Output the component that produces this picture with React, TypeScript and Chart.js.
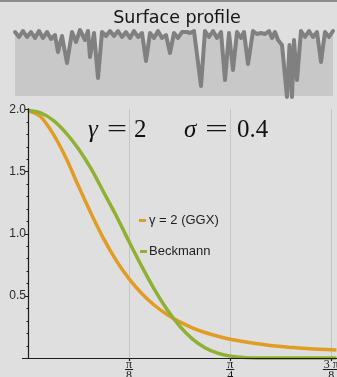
import { useEffect, useRef } from "react";
import { Chart, registerables } from "chart.js";

Chart.register(...registerables);

// ---- Surface profile: sample position along the surface and its height ----
const PROFILE_POS = [
  0, 4, 8, 12, 16, 20, 24, 28, 32, 36, 40, 43, 47, 52, 57, 61, 65, 70, 73, 75,
  79, 83, 87, 91, 95, 99, 103, 107, 111, 115, 119, 123, 127, 131, 135, 139, 143,
  147, 151, 155, 159, 163, 167, 172, 175, 179, 186, 190, 194, 198, 202, 206, 210,
  214, 218, 222, 226, 229, 233, 238, 242, 246, 250, 254, 257, 260, 263, 267, 272,
  274.5, 277, 279, 282, 286, 290, 294, 298, 302, 306, 310, 314, 318,
];
const PROFILE_HEIGHT = [
  -1, -6, 0, -6, -1, -7, 0, -7, -1, -8, -4, -21, -5, -32, -1, -11, 1, -9, 0, -26,
  -2, -47, -1, -5, 0, -5, 0, -6, -1, -7, 0, -6, -2, -30, -2, -7, 0,
  -7, -4, -22, -2, -7, -1, -1, -2, 0, -55, 0, -6, 0, -7, -1, -49,
  -2, -39, -1, -7, -1, -33, 0, -3, -2, -3, 0, -7, -1, -9, -14, -66,
  -14, -66, -9, -49, 0, -6, 0, -6, -1, -31, -1, -6, 0,
];
const PROFILE_MIN = -65;
const PROFILE_LEN = 318;

// ---- Microfacet distributions D(θ), roughness σ = 0.4 ----
// angle samples in steps of π/64
const ANGLE_STEPS = [
  0, 1, 2, 3, 4, 5, 6, 7, 8, 9, 10, 11, 12, 13, 14, 15, 16, 17, 18, 19, 20, 21,
  22, 23, 24, 24.4,
];
const GGX = [
  1.99, 1.94, 1.8, 1.61, 1.38, 1.16, 0.956, 0.781, 0.636, 0.518, 0.424, 0.349,
  0.29, 0.243, 0.205, 0.175, 0.151, 0.132, 0.116, 0.103, 0.093, 0.084, 0.077,
  0.071, 0.066, 0.064,
];
const BECKMANN = [
  1.99, 1.97, 1.91, 1.81, 1.68, 1.52, 1.33, 1.14, 0.934, 0.736, 0.551, 0.389,
  0.256, 0.154, 0.083, 0.039, 0.015, 0.005, 0.001, 0, 0, 0, 0, 0, 0, 0,
];

const X_TICKS = [Math.PI / 8, Math.PI / 4, (3 * Math.PI) / 8];
const X_TICK_NUM = ["π", "π", "3 π"];
const X_TICK_DEN = ["8", "4", "8"];
const X_MAX = 1.2;
const Y_TICKS = [0, 0.5, 1, 1.5, 2];

const BG = "#dfdfdf";
const ORANGE = "#e19c24";
const GREEN = "#8fb032";
const AXIS = "#1c1c1c";

function stretchText(
  ctx: CanvasRenderingContext2D,
  text: string,
  x: number,
  y: number,
  width: number
) {
  const w = ctx.measureText(text).width;
  ctx.save();
  ctx.translate(x, y);
  ctx.scale(width / w, 1);
  ctx.fillText(text, 0, 0);
  ctx.restore();
}

const profileTitle = {
  id: "profileTitle",
  afterDraw(chart: any) {
    const { ctx } = chart;
    ctx.save();
    ctx.font = '17.5px "DejaVu Sans"';
    ctx.fillStyle = "#141414";
    ctx.textAlign = "center";
    ctx.textBaseline = "alphabetic";
    ctx.fillText("Surface profile", 177, 22.5);
    ctx.restore();
  },
};

const mainDecor = {
  id: "mainDecor",
  afterDatasetsDraw(chart: any) {
    const { ctx, chartArea: a, scales } = chart;
    const xs = scales.x;
    const ys = scales.y;
    ctx.save();

    // axes
    ctx.strokeStyle = AXIS;
    ctx.lineWidth = 1.2;
    ctx.beginPath();
    ctx.moveTo(a.left - 6, a.bottom + 0.5);
    ctx.lineTo(a.right, a.bottom + 0.5);
    ctx.moveTo(a.left + 0.5, a.top - 1);
    ctx.lineTo(a.left + 0.5, a.bottom);
    // y major / minor ticks
    for (let i = 1; i <= 20; i++) {
      const y = Math.round(ys.getPixelForValue(i / 10)) + 0.5;
      const len = i % 5 === 0 ? 3 : 1.5;
      ctx.moveTo(a.left - len, y);
      ctx.lineTo(a.left, y);
    }
    // x ticks
    X_TICKS.forEach((v) => {
      const x = Math.round(xs.getPixelForValue(v)) + 0.5;
      ctx.moveTo(x, a.bottom);
      ctx.lineTo(x, a.bottom + 3);
    });
    ctx.stroke();

    // x tick labels as stacked fractions
    ctx.fillStyle = "#1a1a1a";
    ctx.font = '12px "Liberation Serif"';
    ctx.textAlign = "center";
    ctx.textBaseline = "alphabetic";
    X_TICKS.forEach((v, i) => {
      const x = xs.getPixelForValue(v);
      const num = X_TICK_NUM[i];
      const w = ctx.measureText(num).width;
      ctx.fillText(num, x, a.bottom + 10);
      ctx.fillRect(x - w / 2 - 1, a.bottom + 11, w + 2, 1);
      ctx.fillText(X_TICK_DEN[i], x, a.bottom + 21);
    });

    // parameter annotation
    ctx.textAlign = "left";
    ctx.fillStyle = "#111";
    const base = 37;
    ctx.font = 'italic 25px "Liberation Serif"';
    ctx.fillText("γ", 88, base);
    ctx.fillText("σ", 184, base);
    ctx.font = '25px "Liberation Serif"';
    stretchText(ctx, "=", 107, base, 20);
    ctx.fillText("2", 134, base);
    stretchText(ctx, "=", 205, base, 23);
    ctx.fillText("0.4", 237, base);

    // legend
    ctx.font = '13px "Liberation Sans"';
    ctx.fillStyle = ORANGE;
    ctx.fillRect(139, 119, 7, 3);
    ctx.fillStyle = GREEN;
    ctx.fillRect(140, 150, 7, 3);
    ctx.fillStyle = "#1e1e1e";
    ctx.fillText("γ = 2 (GGX)", 149, 123.5);
    ctx.fillText("Beckmann", 149, 154.5);

    ctx.restore();
  },
};

export default function App() {
  const profileRef = useRef<HTMLCanvasElement>(null);
  const mainRef = useRef<HTMLCanvasElement>(null);

  useEffect(() => {
    document.body.style.margin = "0";
    document.body.style.background = BG;

    const profile = new Chart(profileRef.current!, {
      type: "line",
      data: {
        datasets: [
          {
            data: PROFILE_POS.map((p, i) => ({ x: p, y: PROFILE_HEIGHT[i] })),
            borderColor: "#808080",
            borderWidth: 4,
            borderJoinStyle: "round",
            borderCapStyle: "round",
            backgroundColor: "#c8c8c8",
            fill: "start",
            pointRadius: 0,
            tension: 0,
            clip: false,
          } as any,
        ],
      },
      options: {
        animation: false,
        responsive: false,
        devicePixelRatio: 1,
        layout: { padding: { left: 15, right: 4, top: 31, bottom: 4 } },
        plugins: { legend: { display: false }, tooltip: { enabled: false } },
        scales: {
          x: { type: "linear", display: false, min: 0, max: PROFILE_LEN },
          y: { display: false, min: PROFILE_MIN, max: 0 },
        },
      },
      plugins: [profileTitle],
    });

    const toPoints = (vals: number[]) =>
      ANGLE_STEPS.map((s, i) => ({ x: (s * Math.PI) / 64, y: vals[i] }));

    const main = new Chart(mainRef.current!, {
      type: "line",
      data: {
        datasets: [
          {
            label: "Beckmann",
            data: toPoints(BECKMANN),
            borderColor: GREEN,
            borderWidth: 3.5,
            pointRadius: 0,
            cubicInterpolationMode: "monotone",
            clip: false,
            order: 1,
          } as any,
          {
            label: "γ = 2 (GGX)",
            data: toPoints(GGX),
            borderColor: ORANGE,
            borderWidth: 3.5,
            pointRadius: 0,
            cubicInterpolationMode: "monotone",
            clip: false,
            order: 2,
          } as any,
        ],
      },
      options: {
        animation: false,
        responsive: false,
        devicePixelRatio: 1,
        layout: { padding: { left: 0, right: 0, top: 7, bottom: 0 } },
        plugins: {
          legend: { display: false },
          tooltip: { enabled: false },
          title: { display: false },
        },
        scales: {
          x: {
            type: "linear",
            min: 0,
            max: X_MAX,
            afterBuildTicks: (s: any) => {
              s.ticks = X_TICKS.map((v) => ({ value: v }));
            },
            afterFit: (s: any) => {
              s.height = 19;
            },
            ticks: { display: false },
            grid: { color: "#c4c4c4", lineWidth: 1, drawTicks: false },
            border: { display: false },
          },
          y: {
            type: "linear",
            min: 0,
            max: 2,
            afterBuildTicks: (s: any) => {
              s.ticks = Y_TICKS.map((v) => ({ value: v }));
            },
            afterFit: (s: any) => {
              s.width = 28;
            },
            ticks: {
              padding: 2,
              color: "#2a2a2a",
              font: { family: "Liberation Sans", size: 12 },
              callback: (v: any) => (Number(v) === 0 ? "" : Number(v).toFixed(1)),
            },
            grid: { display: false, drawTicks: false },
            border: { display: false },
          },
        },
      } as any,
      plugins: [mainDecor],
    });

    return () => {
      profile.destroy();
      main.destroy();
    };
  }, []);

  return (
    <div
      style={{
        position: "relative",
        width: 337,
        height: 377,
        background: BG,
        overflow: "hidden",
      }}
    >
      <canvas
        ref={profileRef}
        width={337}
        height={100}
        style={{ position: "absolute", left: 0, top: 0 }}
      />
      <canvas
        ref={mainRef}
        width={337}
        height={277}
        style={{ position: "absolute", left: 0, top: 100 }}
      />
      <div
        style={{
          position: "absolute",
          left: 0,
          top: 0,
          width: 337,
          height: 2,
          background: "#8c8c8c",
        }}
      />
    </div>
  );
}
